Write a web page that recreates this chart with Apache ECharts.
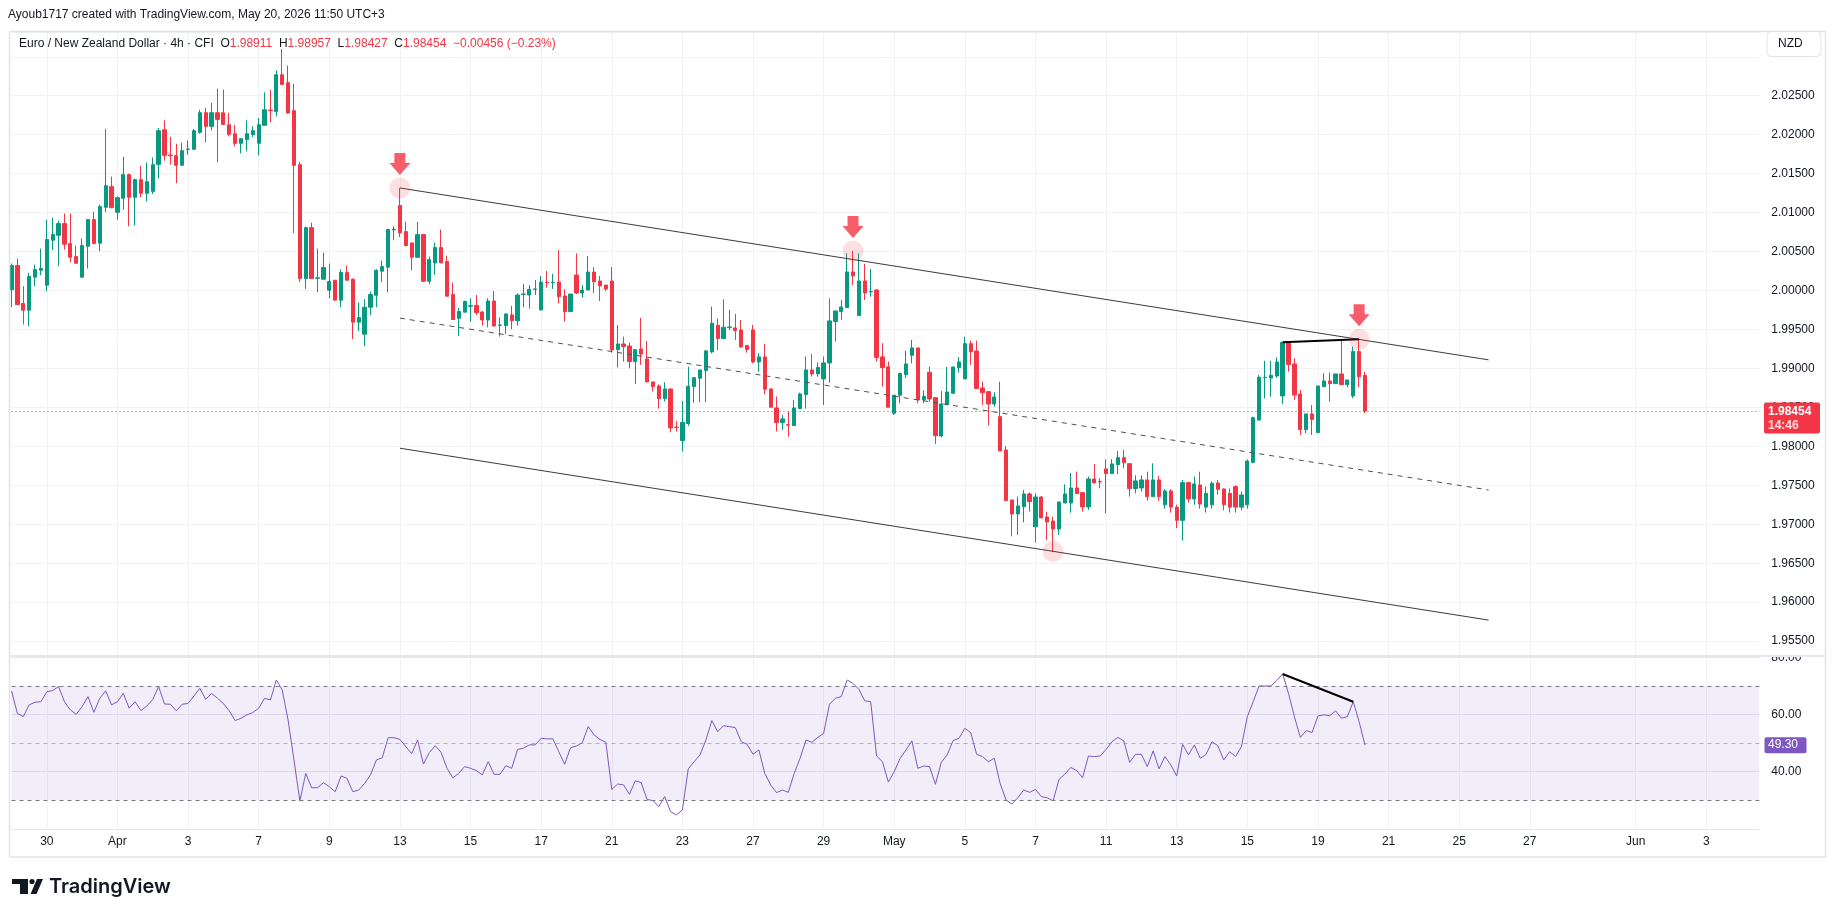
<!DOCTYPE html>
<html>
<head>
<meta charset="utf-8">
<title>EUR/NZD 4h</title>
<script src="https://cdn.jsdelivr.net/npm/echarts@6/dist/echarts.min.js"></script>
<style>
  html, body { margin: 0; padding: 0; background: #fff; }
  #chart { width: 1835px; height: 917px; }
</style>
</head>
<body>
<div id="chart"></div>
<script>
// 4h candles, slot 0 = Mar 27 00:00 (UTC+3), 6 slots per trading day
var openPrices = [
  2.0001, 2.0032, 1.99833, 1.99747, 2.00171, 2.0026, 2.00068, 2.00645, 2.00709, 2.00859,
  2.00602, 2.00436, 2.00171, 2.00568, 2.0091, 2.00607, 2.01068, 2.01333, 2.01004, 2.01184,
  2.01487, 2.01196, 2.01423, 2.01248, 2.01273, 2.0162, 2.02064, 2.0174, 2.01731, 2.01607,
  2.01812, 2.01812, 2.0203, 2.02282, 2.02107, 2.02282, 2.02282, 2.02128, 2.02013, 2.01889,
  2.01936, 2.02, 2.01889, 2.0212, 2.02316, 2.02299, 2.02769, 2.02667, 2.02308, 2.01615,
  2.00154, 2.00807, 2.00158, 2.00145, 2.00004, 2.00132, 1.99876, 2.00231, 2.00145, 1.99594,
  1.9944, 1.99786, 1.9994, 2.00248, 2.003, 2.00778, 2.0109, 2.00756, 2.00611, 2.00427,
  2.00718, 2.00119, 2.00354, 2.00551, 2.00372, 1.99948, 1.99645, 1.99722, 1.99798, 1.9981,
  1.99724, 1.99622, 1.99865, 1.99553, 1.99549, 1.99686, 1.99613, 1.9995, 1.99942, 2.00015,
  1.9975, 2.00105, 2.001, 2.00109, 1.9993, 1.99729, 2.00199, 1.99968, 2.00006, 2.00237,
  2.00122, 2.0007, 2.00122, 1.99241, 1.99314, 1.99288, 1.99088, 1.9925, 1.99122, 1.98827,
  1.98775, 1.98613, 1.98737, 1.98246, 1.98075, 1.98293, 1.98767, 1.98874, 1.98972, 1.99212,
  1.99554, 1.99383, 1.99524, 1.9952, 1.99494, 1.99293, 1.99494, 1.99083, 1.99148, 1.98737,
  1.98493, 1.98305, 1.98278, 1.98266, 1.98485, 1.98664, 1.98981, 1.9893, 1.98865, 1.99071,
  1.99601, 1.99729, 1.99781, 2.00239, 1.99678, 2.00123, 1.99982, 2.00007, 1.99148, 1.9902,
  1.98425, 1.98656, 1.98921, 1.99169, 1.99263, 1.98596, 1.9895, 1.98625, 1.98133, 1.98535,
  1.98681, 1.9901, 1.98865, 1.99318, 1.99224, 1.98749, 1.98702, 1.98544, 1.98381, 1.97954,
  1.97312, 1.97132, 1.97226, 1.97389, 1.96969, 1.9735, 1.97094, 1.97042, 1.96939, 1.97273,
  1.97273, 1.97466, 1.97406, 1.97222, 1.97581, 1.97547, 1.9771, 1.9765, 1.97765, 1.97855,
  1.97778, 1.97457, 1.97466, 1.97569, 1.97355, 1.97569, 1.9725, 1.97427, 1.9722, 1.9705,
  1.97534, 1.97325, 1.97504, 1.9722, 1.9725, 1.9753, 1.97453, 1.97397, 1.97483, 1.9722,
  1.9725, 1.97795, 1.98338, 1.98882, 1.98877, 1.98903, 1.98647, 1.99335, 1.99057, 1.98672,
  1.98214, 1.98416, 1.98176, 1.98766, 1.98839, 1.98805, 1.98929, 1.98792, 1.98647, 1.99216,
  1.98911
];
var closePrices = [
  2.0032, 1.9982, 1.99747, 2.00183, 2.00269, 2.00282, 2.00654, 2.00718, 2.00859, 2.00594,
  2.00427, 2.0035, 2.00577, 2.0091, 2.00602, 2.01077, 2.01346, 2.01064, 2.01192, 2.01487,
  2.01196, 2.01423, 2.01248, 2.01397, 2.01615, 2.02051, 2.01735, 2.0173, 2.01607, 2.01795,
  2.01816, 2.02051, 2.02282, 2.02107, 2.02282, 2.02196, 2.02132, 2.02004, 2.01889, 2.01949,
  2.02013, 2.02051, 2.02128, 2.0232, 2.02308, 2.02769, 2.02645, 2.02278, 2.01607, 2.00154,
  2.00807, 2.00154, 2.00163, 2.00295, 2.00115, 1.99876, 2.00231, 2.00132, 1.99594, 1.99653,
  1.99786, 1.99948, 2.0026, 2.00307, 2.00782, 2.00786, 2.00739, 2.00577, 2.00427, 2.00718,
  2.00119, 2.00397, 2.00551, 2.00354, 1.99927, 1.99628, 1.9973, 1.99859, 1.99805, 1.99716,
  1.99622, 1.99865, 1.99545, 1.99558, 1.99699, 1.99613, 1.99942, 1.99955, 2.00015, 2.0002,
  2.00109, 2.00101, 2.00106, 1.99921, 1.99729, 1.99955, 1.99968, 2.00006, 2.00237, 2.00113,
  2.00058, 2.00019, 1.99237, 1.99314, 1.9928, 1.99088, 1.99241, 1.99186, 1.98827, 1.98767,
  1.98613, 1.98737, 1.98237, 1.98242, 1.98306, 1.98771, 1.98882, 1.98981, 1.99225, 1.9958,
  1.99383, 1.99528, 1.99532, 1.99486, 1.99276, 1.99242, 1.99083, 1.99148, 1.98733, 1.98502,
  1.98305, 1.98352, 1.98272, 1.98493, 1.98673, 1.98981, 1.9893, 1.99011, 1.99071, 1.9961,
  1.99738, 1.99789, 2.00239, 2.00187, 2.00123, 1.99969, 1.99986, 1.99139, 1.99011, 1.98502,
  1.98656, 1.98934, 1.99058, 1.99263, 1.98596, 1.98643, 1.98608, 1.98137, 1.98544, 1.98698,
  1.99019, 1.99083, 1.99318, 1.99215, 1.98741, 1.98689, 1.98544, 1.98634, 1.97941, 1.97303,
  1.97132, 1.97235, 1.97389, 1.9729, 1.9735, 1.97081, 1.9703, 1.96939, 1.97286, 1.97389,
  1.97466, 1.97393, 1.97222, 1.97581, 1.9753, 1.97543, 1.9765, 1.97774, 1.97855, 1.97791,
  1.97457, 1.97556, 1.97569, 1.97355, 1.97569, 1.97355, 1.97427, 1.9722, 1.9705, 1.97534,
  1.97325, 1.97517, 1.9726, 1.97397, 1.97526, 1.97449, 1.9725, 1.9722, 1.9722, 1.97376,
  1.97812, 1.98368, 1.98886, 1.98886, 1.98911, 1.99083, 1.99335, 1.99049, 1.98659, 1.98214,
  1.98416, 1.98347, 1.98775, 1.98839, 1.98805, 1.98929, 1.98792, 1.98852, 1.99216, 1.98894,
  1.98454
];
var lowPrices = [
  1.99786, 1.9981, 1.99564, 1.99542, 2.00055, 2.00196, 1.99991, 2.00517, 2.00312, 2.00525,
  2.00363, 2.0035, 2.00171, 2.00282, 2.00594, 2.00504, 2.01004, 2.01055, 2.0091, 2.01038,
  2.00825, 2.00837, 2.01196, 2.01145, 2.01239, 2.0144, 2.01667, 2.01615, 2.01376, 2.01607,
  2.01743, 2.01812, 2.02013, 2.01902, 2.02055, 2.01645, 2.02128, 2.01979, 2.0185, 2.01761,
  2.01786, 2.0197, 2.01735, 2.0212, 2.02158, 2.02235, 2.02645, 2.02269, 2.00739, 2.00111,
  2.00021, 2.00154, 1.99978, 2.00145, 1.99901, 1.99876, 1.99786, 2.00132, 1.99376, 1.99478,
  1.99286, 1.99683, 1.99786, 2.00107, 1.99978, 2.00645, 2.00684, 2.00568, 2.0026, 2.00419,
  2.00111, 2.00081, 2.002, 2.00354, 1.99927, 1.99628, 1.99414, 1.99722, 1.996, 1.99686,
  1.99549, 1.99528, 1.99536, 1.99408, 1.99442, 1.99502, 1.99549, 1.99784, 1.99767, 1.99942,
  1.9975, 2.00036, 2.00019, 1.99835, 1.996, 1.99729, 1.99955, 1.99908, 2.00006, 1.99964,
  1.99865, 1.99994, 1.99203, 1.99011, 1.99088, 1.99002, 1.98801, 1.99045, 1.98827, 1.98703,
  1.98485, 1.98575, 1.98181, 1.9819, 1.97934, 1.98263, 1.98562, 1.98566, 1.98566, 1.99195,
  1.99237, 1.99383, 1.99494, 1.99366, 1.99267, 1.99203, 1.99066, 1.98959, 1.98668, 1.98502,
  1.9819, 1.98211, 1.98125, 1.98266, 1.98485, 1.98485, 1.98895, 1.98895, 1.98532, 1.98818,
  1.99344, 1.99622, 1.99781, 2.00072, 1.99678, 1.99879, 1.99922, 1.99088, 1.98767, 1.98502,
  1.98403, 1.98553, 1.98874, 1.99066, 1.98553, 1.98553, 1.98574, 1.98031, 1.98116, 1.98535,
  1.98681, 1.98946, 1.98865, 1.99044, 1.98741, 1.98531, 1.98266, 1.9851, 1.97941, 1.97303,
  1.96846, 1.96863, 1.97025, 1.97162, 1.96764, 1.97081, 1.96798, 1.96649, 1.96863, 1.97273,
  1.97149, 1.97393, 1.97162, 1.97184, 1.9753, 1.97461, 1.97141, 1.9765, 1.97645, 1.97718,
  1.97355, 1.97397, 1.97419, 1.97303, 1.97355, 1.973, 1.972, 1.9715, 1.9695, 1.9679,
  1.9728, 1.9725, 1.972, 1.9715, 1.972, 1.9738, 1.9718, 1.9715, 1.9715, 1.9718,
  1.972, 1.97782, 1.9833, 1.98617, 1.98638, 1.9888, 1.98544, 1.98959, 1.98596, 1.98146,
  1.98167, 1.98146, 1.98176, 1.98758, 1.98574, 1.98805, 1.98792, 1.98758, 1.98617, 1.98758,
  1.98427
];
var highPrices = [
  2.00346, 2.0041, 2.00055, 2.00226, 2.00333, 2.00538, 2.0091, 2.00936, 2.00897, 2.00987,
  2.00987, 2.00577, 2.00666, 2.0091, 2.01013, 2.01102, 2.02077, 2.01461, 2.01209, 2.01718,
  2.015, 2.01436, 2.01602, 2.01645, 2.01709, 2.02085, 2.02184, 2.01974, 2.01884, 2.01897,
  2.01927, 2.02073, 2.0232, 2.02346, 2.0241, 2.0259, 2.02577, 2.02282, 2.02128, 2.0195,
  2.02184, 2.02107, 2.02214, 2.02543, 2.02577, 2.02825, 2.031, 2.02889, 2.02654, 2.0165,
  2.0082, 2.00871, 2.00538, 2.00487, 2.00346, 2.00132, 2.00273, 2.0032, 2.00154, 1.99846,
  1.99889, 1.99987, 2.00273, 2.00384, 2.00795, 2.00825, 2.01316, 2.00884, 2.00611, 2.0088,
  2.00718, 2.00436, 2.00615, 2.00782, 2.00448, 2.00102, 1.99777, 1.99871, 1.999, 1.99942,
  1.99737, 1.999, 1.99994, 1.99656, 1.99707, 1.99801, 1.99964, 2.00083, 2.0007, 2.00135,
  2.00186, 2.0025, 2.00212, 2.00519, 2.00015, 1.99955, 2.00477, 2.0007, 2.00442, 2.00301,
  2.00186, 2.0007, 2.00301, 1.99558, 1.99408, 1.99331, 1.99241, 1.99647, 1.99353, 1.98827,
  1.98797, 1.98823, 1.98737, 1.98327, 1.98583, 1.99023, 1.98882, 1.98981, 1.99237, 1.99794,
  1.9964, 1.99888, 1.99751, 1.997, 1.99622, 1.99293, 1.99558, 1.99195, 1.99314, 1.98737,
  1.98639, 1.98403, 1.98446, 1.98596, 1.9869, 1.99152, 1.99186, 1.99075, 1.99152, 1.99901,
  1.99738, 1.99879, 2.00478, 2.00508, 2.00478, 2.00341, 2.00277, 2.00016, 1.99323, 1.99088,
  1.98656, 1.98947, 1.99229, 1.99366, 1.99263, 1.98716, 1.99023, 1.98625, 1.98711, 1.99019,
  1.99019, 1.99147, 1.99408, 1.99357, 1.99357, 1.9883, 1.98702, 1.98694, 1.9883, 1.98005,
  1.97312, 1.97355, 1.9744, 1.9741, 1.97397, 1.97363, 1.97162, 1.97098, 1.97286, 1.97513,
  1.97658, 1.97675, 1.97406, 1.97611, 1.97774, 1.9759, 1.97834, 1.97834, 1.9794, 1.97953,
  1.97778, 1.97628, 1.97628, 1.97675, 1.97783, 1.9762, 1.9745, 1.9745, 1.9725, 1.97569,
  1.97547, 1.97611, 1.97675, 1.97483, 1.9755, 1.97569, 1.9746, 1.9746, 1.975, 1.97419,
  1.9783, 1.98381, 1.98916, 1.99099, 1.99099, 1.99143, 1.99335, 1.99335, 1.9913, 1.98724,
  1.98416, 1.98531, 1.98775, 1.98937, 1.98946, 1.98929, 1.99357, 1.98852, 1.9928, 1.99374,
  1.98957
];
// RSI(14), one value per candle
var rsiValues = [
  68.3, 60.4, 59.3, 63.4, 64.3, 64.5, 68.0, 68.4, 69.8, 64.5,
  61.6, 60.1, 62.8, 66.3, 60.8, 65.7, 68.3, 63.4, 64.5, 67.4,
  62.2, 64.5, 61.4, 63.0, 65.3, 69.8, 63.7, 63.6, 61.3, 63.6,
  63.9, 66.5, 69.2, 65.3, 67.4, 65.7, 63.9, 61.3, 57.9, 58.7,
  59.9, 60.7, 62.2, 65.7, 65.1, 72.1, 68.6, 58.1, 44.1, 29.8,
  39.4, 34.4, 34.4, 36.2, 34.8, 33.0, 38.5, 37.7, 33.0, 33.6,
  35.9, 38.9, 44.1, 44.9, 51.9, 51.9, 51.3, 48.8, 46.3, 51.1,
  42.7, 46.7, 49.1, 46.8, 41.2, 37.9, 39.4, 41.8, 41.2, 40.4,
  38.9, 43.5, 39.1, 39.1, 42.1, 41.2, 47.8, 48.2, 49.4, 49.4,
  51.7, 51.5, 51.5, 47.0, 42.6, 48.4, 49.0, 50.2, 55.8, 52.9,
  51.3, 50.3, 33.8, 35.7, 35.4, 32.1, 36.8, 36.2, 30.3, 29.9,
  27.8, 31.3, 26.0, 24.9, 26.6, 41.0, 43.5, 45.9, 51.1, 57.9,
  54.0, 56.1, 55.8, 55.4, 50.5, 49.6, 46.1, 47.6, 39.4, 35.4,
  32.7, 33.6, 32.8, 39.4, 44.7, 51.1, 50.3, 52.0, 53.4, 63.6,
  65.7, 66.3, 72.1, 70.9, 68.8, 64.8, 64.5, 45.5, 43.5, 36.4,
  40.0, 44.7, 47.6, 50.8, 41.2, 42.0, 41.8, 35.6, 43.3, 45.9,
  50.9, 51.7, 55.2, 53.7, 46.1, 45.3, 43.5, 44.7, 35.9, 30.1,
  28.7, 30.9, 33.6, 32.8, 33.8, 31.3, 30.9, 29.8, 37.3, 39.2,
  41.5, 40.4, 37.9, 45.5, 45.3, 45.5, 47.8, 50.5, 52.0, 50.8,
  43.3, 46.1, 46.1, 41.8, 47.3, 41.0, 45.3, 42.4, 38.5, 49.6,
  45.9, 49.4, 44.7, 46.1, 50.5, 49.1, 44.1, 47.0, 45.3, 48.8,
  59.3, 64.5, 70.0, 70.0, 70.0, 71.9, 74.2, 67.4, 59.3, 52.0,
  54.4, 53.7, 59.5, 59.9, 59.6, 61.3, 58.7, 59.3, 64.5, 57.5,
  49.3
];
// time axis labels: day (MM-DD) -> text
var dayLabels = {
  '03-30': '30', '04-01': 'Apr', '04-03': '3', '04-07': '7', '04-09': '9', '04-13': '13',
  '04-15': '15', '04-17': '17', '04-21': '21', '04-23': '23', '04-27': '27', '04-29': '29',
  '05-01': 'May', '05-05': '5', '05-07': '7', '05-11': '11', '05-13': '13', '05-15': '15',
  '05-19': '19', '05-21': '21', '05-25': '25', '05-27': '27', '06-01': 'Jun', '06-03': '3'
};
// drawings: [slot, value]
var channelUpper = [[66, 2.01316], [251, 1.99110]];
var channelMid = [[66, 1.99646], [251, 1.97440]];
var channelLower = [[66, 1.97976], [251, 1.95770]];
var priceTopLine = [[216, 1.99335], [229, 1.99374]];
var rsiTopLine = [[216, 74.2], [228, 64.5]];
var touchPoints = [[66, 2.01316], [143, 2.00508], [177, 1.96649], [229, 1.99374]];
var arrowPoints = [[66, 2.01316], [143, 2.00508], [229, 1.99374]];

var SLOT_COUNT = 298;
var FONT = '"Liberation Sans", Arial, sans-serif';
var RED = '#f23645';
var GREEN = '#089981';
var GRID_COLOR = '#f0f2f5';

// build the 4h slot list (weekdays only)
var slotTimes = [];
var day = new Date(Date.UTC(2026, 2, 27));
while (slotTimes.length < SLOT_COUNT) {
  var wd = day.getUTCDay();
  if (wd !== 0 && wd !== 6) {
    var md = ('0' + (day.getUTCMonth() + 1)).slice(-2) + '-' + ('0' + day.getUTCDate()).slice(-2);
    for (var h = 0; h < 24 && slotTimes.length < SLOT_COUNT; h += 4) {
      slotTimes.push(md + ' ' + ('0' + h).slice(-2) + ':00');
    }
  }
  day = new Date(day.getTime() + 86400000);
}

function onLabelDay(idx, val) {
  return val.slice(6) === '00:00' && dayLabels[val.slice(0, 5)] !== undefined;
}
function toCat(pts) {
  return pts.map(function (p) { return [slotTimes[p[0]], p[1]]; });
}

var candleData = openPrices.map(function (o, i) {
  return [o, closePrices[i], lowPrices[i], highPrices[i]];
});
var lastClose = closePrices[closePrices.length - 1];
var lastRsi = rsiValues[rsiValues.length - 1];

var chart = echarts.init(document.getElementById('chart'));

var xAxisBase = {
  type: 'category',
  data: slotTimes,
  boundaryGap: false,
  axisLine: { show: false },
  axisTick: { show: false },
  splitLine: { show: true, interval: onLabelDay, lineStyle: { color: GRID_COLOR, width: 1 } }
};

var option = {
  animation: false,
  backgroundColor: '#ffffff',
  textStyle: { fontFamily: FONT },
  grid: [
    { left: 11.5, right: 75.7, top: 32, height: 623 },
    { left: 11.5, right: 75.7, top: 657.4, height: 171.5 }
  ],
  xAxis: [
    Object.assign({}, xAxisBase, { gridIndex: 0, axisLabel: { show: false } }),
    Object.assign({}, xAxisBase, {
      gridIndex: 1,
      axisLabel: {
        show: true, interval: onLabelDay, margin: 7,
        color: '#131722', fontSize: 12, fontFamily: FONT,
        formatter: function (v) { return dayLabels[v.slice(0, 5)] || ''; }
      }
    })
  ],
  yAxis: [
    {
      gridIndex: 0, type: 'value', position: 'right',
      min: 1.95322, max: 2.03318, splitNumber: 16,
      axisLine: { show: false }, axisTick: { show: false },
      axisLabel: {
        margin: 12, color: '#131722', fontSize: 12, fontFamily: FONT,
        showMinLabel: false, showMaxLabel: false,
        formatter: function (v) {
          var k = Math.round(v / 0.005);
          if (v > 2.028) return '';
          return Math.abs(k * 0.005 - v) < 1e-7 ? v.toFixed(5) : '';
        }
      },
      splitLine: { lineStyle: { color: GRID_COLOR, width: 1 } }
    },
    {
      gridIndex: 1, type: 'value', position: 'right',
      min: 20, max: 80, interval: 20,
      axisLine: { show: false }, axisTick: { show: false },
      axisLabel: {
        margin: 12, color: '#131722', fontSize: 12, fontFamily: FONT,
        showMinLabel: false,
        formatter: function (v) { return v.toFixed(2); }
      },
      splitLine: { lineStyle: { color: '#e9e4f3', width: 1 } }
    }
  ],
  series: [
    {
      name: 'EURNZD', type: 'candlestick', xAxisIndex: 0, yAxisIndex: 0,
      data: candleData, barWidth: '64%',
      itemStyle: { color: GREEN, color0: RED, borderColor: GREEN, borderColor0: RED, borderWidth: 1 },
      markLine: {
        silent: true, symbol: 'none', precision: 5, label: { show: false },
        lineStyle: { color: RED, type: [1, 3], width: 1 },
        data: [{ yAxis: lastClose }]
      },
      z: 3
    },
    {
      type: 'line', xAxisIndex: 0, yAxisIndex: 0, data: toCat(channelUpper),
      symbol: 'none', silent: true, lineStyle: { color: '#3b3b3b', width: 1 }, z: 4
    },
    {
      type: 'line', xAxisIndex: 0, yAxisIndex: 0, data: toCat(channelMid),
      symbol: 'none', silent: true, lineStyle: { color: '#505050', width: 1, type: [5, 5] }, z: 4
    },
    {
      type: 'line', xAxisIndex: 0, yAxisIndex: 0, data: toCat(channelLower),
      symbol: 'none', silent: true, lineStyle: { color: '#3b3b3b', width: 1 }, z: 4
    },
    {
      type: 'line', xAxisIndex: 0, yAxisIndex: 0, data: toCat(priceTopLine),
      symbol: 'none', silent: true, lineStyle: { color: '#000000', width: 2 }, z: 5
    },
    {
      type: 'scatter', xAxisIndex: 0, yAxisIndex: 0, data: toCat(touchPoints),
      symbol: 'circle', symbolSize: 21, silent: true,
      itemStyle: { color: 'rgba(242,54,69,0.2)' }, z: 6
    },
    {
      type: 'scatter', xAxisIndex: 0, yAxisIndex: 0, data: toCat(arrowPoints),
      symbol: 'path://M5,0 L16,0 L16,10 L21,10 L10.5,22 L0,10 L5,10 Z',
      symbolSize: [21, 22], symbolOffset: [0, -24], silent: true,
      itemStyle: { color: RED }, z: 6
    },
    {
      name: 'RSI', type: 'line', xAxisIndex: 1, yAxisIndex: 1, data: rsiValues,
      symbol: 'none', silent: true, lineStyle: { color: '#7e57c2', width: 1 },
      markArea: {
        silent: true, itemStyle: { color: 'rgba(126,87,194,0.1)' },
        data: [[{ yAxis: 70 }, { yAxis: 30 }]]
      },
      markLine: {
        silent: true, symbol: 'none', precision: 2, label: { show: false },
        data: [
          { yAxis: 70, lineStyle: { color: '#787b86', type: [4, 4], width: 1 } },
          { yAxis: 50, lineStyle: { color: 'rgba(120,123,134,0.55)', type: [4, 4], width: 1 } },
          { yAxis: 30, lineStyle: { color: '#787b86', type: [4, 4], width: 1 } }
        ]
      },
      z: 3
    },
    {
      type: 'line', xAxisIndex: 1, yAxisIndex: 1, data: toCat(rsiTopLine),
      symbol: 'none', silent: true, lineStyle: { color: '#000000', width: 2 }, z: 5
    }
  ]
};
chart.setOption(option);

// overlays: titles, price tags, frame and logo
var priceY = chart.convertToPixel({ yAxisIndex: 0 }, lastClose);
var rsiY = chart.convertToPixel({ yAxisIndex: 1 }, lastRsi);

chart.setOption({
  graphic: [
    { type: 'rect', shape: { x: 9.5, y: 31.5, width: 1816, height: 825.5 }, style: { fill: 'none', stroke: '#e0e3eb', lineWidth: 1.5 }, silent: true, z: 50 },
    { type: 'line', shape: { x1: 10, y1: 656, x2: 1825, y2: 656 }, style: { stroke: '#e6e8ee', lineWidth: 2 }, silent: true, z: 50 },
    { type: 'rect', shape: { x: 1762, y: 648.5, width: 62, height: 6.5 }, style: { fill: '#ffffff' }, silent: true, z: 49 },
    {
      type: 'text', x: 8, y: 14.5, silent: true, z: 50,
      style: { text: 'Ayoub1717 created with TradingView.com, May 20, 2026 11:50 UTC+3', font: '12px ' + FONT, fill: '#131722', verticalAlign: 'middle' }
    },
    {
      type: 'text', x: 19, y: 43.5, silent: true, z: 50,
      style: {
        text: '{n|Euro / New Zealand Dollar · 4h · CFI}  {k|O}{v|1.98911}  {k|H}{v|1.98957}  {k|L}{v|1.98427}  {k|C}{v|1.98454}  {v|−0.00456 (−0.23%)}',
        font: '12px ' + FONT, verticalAlign: 'middle',
        rich: {
          n: { fill: '#131722', font: '12px ' + FONT },
          k: { fill: '#131722', font: '12px ' + FONT },
          v: { fill: RED, font: '12px ' + FONT }
        }
      }
    },
    { type: 'rect', shape: { x: 1767, y: 31.5, width: 54, height: 25, r: 4 }, style: { fill: '#ffffff', stroke: '#e0e3eb', lineWidth: 1 }, silent: true, z: 51 },
    { type: 'text', x: 1778, y: 44, silent: true, z: 52, style: { text: 'NZD', font: '12px ' + FONT, fill: '#131722', verticalAlign: 'middle' } },
    { type: 'rect', shape: { x: 1764, y: priceY - 8.5, width: 56, height: 31, r: 2 }, style: { fill: RED }, silent: true, z: 52 },
    { type: 'text', x: 1768, y: priceY + 1, silent: true, z: 53, style: { text: lastClose.toFixed(5), font: 'bold 12px ' + FONT, fill: '#ffffff', verticalAlign: 'middle' } },
    { type: 'text', x: 1768, y: priceY + 15, silent: true, z: 53, style: { text: '14:46', font: 'bold 12px ' + FONT, fill: 'rgba(255,255,255,0.85)', verticalAlign: 'middle' } },
    { type: 'rect', shape: { x: 1764.5, y: rsiY - 8, width: 42, height: 16, r: 2 }, style: { fill: '#7e57c2' }, silent: true, z: 52 },
    { type: 'text', x: 1768, y: rsiY, silent: true, z: 53, style: { text: lastRsi.toFixed(2), font: '12px ' + FONT, fill: '#ffffff', verticalAlign: 'middle' } },
    // TradingView logo
    { type: 'rect', shape: { x: 12, y: 879, width: 16, height: 5 }, style: { fill: '#131722' }, silent: true, z: 50 },
    { type: 'rect', shape: { x: 20, y: 879, width: 8, height: 15 }, style: { fill: '#131722' }, silent: true, z: 50 },
    { type: 'circle', shape: { cx: 32, cy: 881.5, r: 2.6 }, style: { fill: '#131722' }, silent: true, z: 50 },
    { type: 'polygon', shape: { points: [[37, 879], [43, 879], [36.5, 894], [30.5, 894]] }, style: { fill: '#131722' }, silent: true, z: 50 },
    { type: 'text', x: 49, y: 887, silent: true, z: 50, style: { text: 'TradingView', font: '600 20px Inter, ' + FONT, fill: '#131722', verticalAlign: 'middle' } }
  ]
});
</script>
</body>
</html>
